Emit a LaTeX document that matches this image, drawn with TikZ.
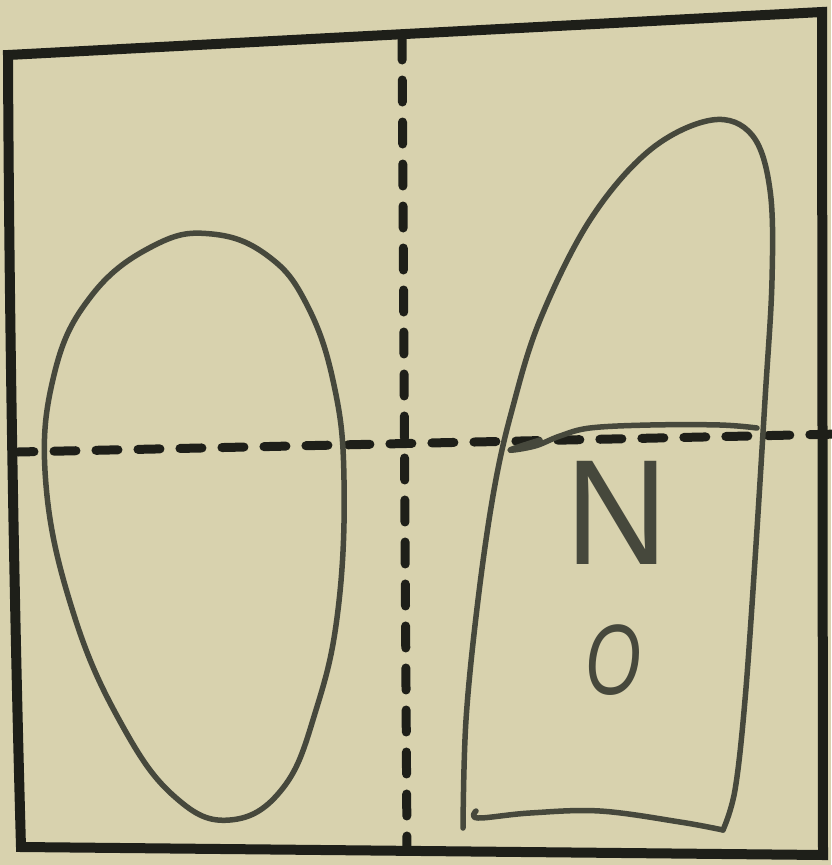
\documentclass[tikz,border=0pt]{standalone}
\usepackage{fontspec}
\newfontfamily\handfont{Liberation Sans}
\definecolor{paper}{RGB}{216,210,174}
\definecolor{frameink}{RGB}{30,31,25}
\definecolor{pen}{RGB}{70,72,60}
\begin{document}
\begin{tikzpicture}[x=1pt,y=-1pt,
  frameline/.style={draw=frameink,line width=10pt,line join=miter},
  cutline/.style={draw=frameink,line width=9pt,line cap=round,dash pattern=on 22pt off 20pt},
  penline/.style={draw=pen,line width=5.5pt,line cap=round,line join=round},
  hand/.style={text=pen,inner sep=0pt,font=\handfont}]
\useasboundingbox[fill=paper] (0,0) rectangle (831,865);
% frame
\coordinate (tl) at (8,55);
\coordinate (tr) at (822,12);
\coordinate (br) at (823,855);
\coordinate (bl) at (21,847);
\draw[frameline] (tl) -- (tr) -- (br) -- (bl) .. controls (14,600) and (9,300) .. cycle;
% dashed axes
\coordinate (vtop) at (402,38);
\coordinate (vbot) at (407,850);
\coordinate (hl) at (18,452);
\coordinate (hr) at (840,434);
\draw[cutline,dash phase=0pt] (vtop) -- (vbot);
\draw[cutline,dash phase=6pt] (hl) -- (hr);
% left ellipse
\draw[penline] plot[smooth cycle,tension=0.7] coordinates {
  (212,234) (268,256) (307,305) (334,385) (344,480) (338,610)
  (316,710) (283,788) (230,820) (175,797) (122,725) (74,615)
  (46,485) (54,375) (92,295) (155,245)};
% right shape
\draw[penline] plot[smooth,tension=0.6] coordinates {
  (463,828) (466,720) (478,600) (494,490) (512,410) (540,320)
  (590,220) (650,150) (712,120) (752,135) (770,190) (772,280)
  (765,400) (755,560) (745,700) (735,790) (723,830)};
\draw[penline] plot[smooth,tension=0.6] coordinates {
  (476,811) (478,818) (530,813) (600,811) (680,822) (723,830)};
\draw[penline] plot[smooth,tension=0.6] coordinates {
  (540,440) (510,450) (535,446) (560,436) (590,428) (650,425) (720,425) (757,428)};
% letters
\node[hand,font=\handfont\fontsize{150}{150}\selectfont,xscale=0.95] (letN) at (617,513) {N};
\node[hand,font=\handfont\itshape\fontsize{100}{100}\selectfont,xscale=0.72] (letO) at (613,660) {O};
\end{tikzpicture}
\end{document}
